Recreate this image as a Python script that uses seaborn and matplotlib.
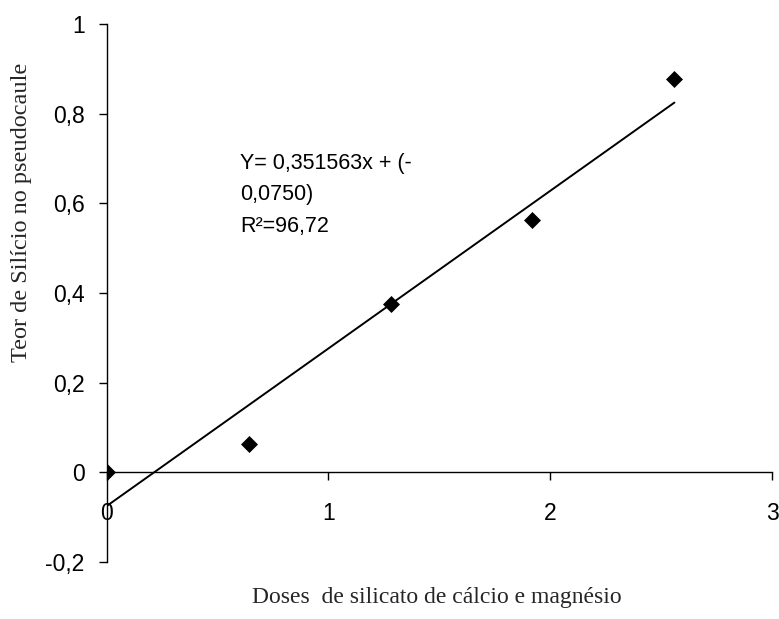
import matplotlib
matplotlib.use("Agg")
import matplotlib.pyplot as plt
import seaborn as sns
import numpy as np
import pandas as pd

# Data
doses = [0.0, 0.64, 1.28, 1.92, 2.56]
silicio = [0.0, 0.063, 0.376, 0.563, 0.877]
slope = 0.351563
intercept = -0.0750
x_ticks = [0, 1, 2, 3]
x_tick_labels = ["0", "1", "2", "3"]
y_ticks = [-0.2, 0, 0.2, 0.4, 0.6, 0.8, 1.0]
y_tick_labels = ["-0,2", "0", "0,2", "0,4", "0,6", "0,8", "1"]
eq_lines = ["Y= 0,351563x + (-", "0,0750)", "R²=96,72"]
xlabel = "Doses  de silicato de cálcio e magnésio"
ylabel = "Teor de Silício no pseudocaule"

sns.set_theme(style="white")
plt.rcParams["font.family"] = ["Liberation Sans", "DejaVu Sans"]

fig = plt.figure(figsize=(7.79, 6.19), dpi=100)
ax = fig.add_axes([0.137, 0.092, 0.854, 0.869])

df = pd.DataFrame({"dose": doses, "si": silicio})
line_x = np.array([min(doses), max(doses)])
line_df = pd.DataFrame({"x": line_x, "y": slope * line_x + intercept})

sns.lineplot(data=line_df, x="x", y="y", ax=ax, color="black", linewidth=1.4)
sns.scatterplot(data=df, x="dose", y="si", ax=ax, marker="D", s=75,
                color="black", linewidth=0, zorder=5)

ax.set_xlim(0, 3)
ax.set_ylim(-0.2, 1.0)
ax.spines["left"].set_position(("data", 0))
ax.spines["bottom"].set_position(("data", 0))
ax.spines["top"].set_visible(False)
ax.spines["right"].set_visible(False)
for s in ["left", "bottom"]:
    ax.spines[s].set_color("black")
    ax.spines[s].set_linewidth(1.0)

ax.set_xticks(x_ticks)
ax.set_xticklabels(x_tick_labels, fontsize=16.5)
ax.set_yticks(y_ticks)
ax.set_yticklabels(y_tick_labels, fontsize=16.5)
ax.tick_params(axis="x", direction="out", length=6, width=1, pad=15, colors="black", bottom=True)
ax.tick_params(axis="y", direction="out", length=6, width=1, pad=10, colors="black", left=True)
ax.set_xlabel("")
ax.set_ylabel("")

fig.text(0.561, 0.034, xlabel, ha="center", va="center", fontsize=17,
         family=["Liberation Serif", "DejaVu Serif"])
fig.text(0.027, 0.657, ylabel, ha="center", va="center", rotation=90, fontsize=17.5,
         family=["Liberation Serif", "DejaVu Serif"])

for i, t in enumerate(eq_lines):
    ax.text(0.6, 0.69 - i * 0.071, t, fontsize=15.5, ha="left", va="center",
            color="black")

fig.savefig("out.png", dpi=100)
